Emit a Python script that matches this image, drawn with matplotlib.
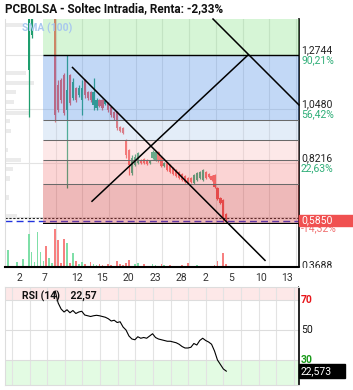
import matplotlib.pyplot as plt
from matplotlib.patches import Rectangle
import matplotlib.transforms as mtransforms
import numpy as np

plt.rcParams['font.family'] = ['Roboto', 'DejaVu Sans']

# ---- values (x = bar number, y = price) ----
candle_idx = [7, 8, 16, 17, 18, 19, 20, 21, 22, 23, 24, 25, 26, 27, 28, 29, 30,
              31, 32, 33, 34, 35, 36, 37, 38, 39, 40, 41, 42, 43, 44, 45, 46,
              47, 48, 49, 50, 51, 52, 53, 54, 55, 56, 57, 58, 59, 60, 61, 62,
              63, 64, 65, 66, 67, 68, 69, 70, 71, 72, 73, 74]
c_open = [1.2125, 1.360, 1.460, 1.1493, 1.1703, 1.1914, 1.0440, 1.1914, 1.0945,
          1.1367, 1.1071, 1.0861, 1.1703, 1.1198, 1.1198, 1.0650, 1.0524, 1.0861,
          1.0861, 1.0693, 1.0735, 1.0566, 1.0356, 1.0356, 0.9724, 0.9682, 0.9176,
          0.8755, 0.7786, 0.8123, 0.8208, 0.8334, 0.8376, 0.8334, 0.8208, 0.8418,
          0.8334, 0.8671, 0.8461, 0.8081, 0.8208, 0.8123, 0.7997, 0.7913, 0.7829,
          0.7744, 0.7660, 0.7576, 0.7576, 0.7365, 0.7492, 0.7576, 0.7492, 0.7829,
          0.7744, 0.7660, 0.7702, 0.7155, 0.6733, 0.6649, 0.6059]
c_high = [1.460, 1.460, 1.490, 1.1703, 1.1788, 1.2000, 1.2757, 1.1955, 1.1788,
          1.1409, 1.1493, 1.1703, 1.1746, 1.1240, 1.1240, 1.1788, 1.0945, 1.0903,
          1.0903, 1.0861, 1.0777, 1.0608, 1.0398, 1.0398, 0.9766, 0.9724, 0.9218,
          0.8797, 0.8545, 0.8587, 0.8671, 0.8376, 0.8418, 0.8376, 0.8334, 0.8755,
          0.8713, 0.8713, 0.8503, 0.8250, 0.8250, 0.8166, 0.8039, 0.7955, 0.7871,
          0.7786, 0.7702, 0.7618, 0.7618, 0.7744, 0.7829, 0.7871, 0.7955, 0.7871,
          0.7786, 0.7702, 0.7744, 0.7197, 0.6775, 0.6691, 0.6101]
c_low = [1.0145, 1.3473, 0.9935, 1.0356, 1.0735, 1.0229, 0.7155, 1.0650, 1.0861,
         1.0777, 1.0987, 1.0229, 1.0945, 1.0861, 1.0777, 1.0440, 1.0440, 1.0566,
         1.0440, 1.0650, 1.0356, 1.0145, 1.0019, 0.9597, 0.9513, 0.9429, 0.8418,
         0.7702, 0.7702, 0.8081, 0.8166, 0.8166, 0.8166, 0.8123, 0.8166, 0.8376,
         0.8292, 0.8250, 0.8039, 0.8039, 0.7871, 0.7786, 0.7702, 0.7618, 0.7534,
         0.7450, 0.7365, 0.7323, 0.7365, 0.7323, 0.7450, 0.7534, 0.7450, 0.7534,
         0.7576, 0.7450, 0.7155, 0.6649, 0.6481, 0.5722, 0.5764]
c_close = [1.450, 1.450, 1.0229, 1.0440, 1.0861, 1.0314, 1.1282, 1.0735, 1.1619,
           1.0861, 1.1367, 1.1367, 1.1071, 1.0945, 1.0861, 1.1198, 1.0861, 1.0608,
           1.0524, 1.0819, 1.0440, 1.0229, 1.0103, 0.9682, 0.9555, 0.9471, 0.8545,
           0.8123, 0.8418, 0.8461, 0.8629, 0.8208, 0.8208, 0.8166, 0.8292, 0.8671,
           0.8671, 0.8334, 0.8081, 0.8208, 0.7913, 0.7829, 0.7744, 0.7660, 0.7576,
           0.7492, 0.7407, 0.7365, 0.7407, 0.7702, 0.7786, 0.7829, 0.7913, 0.7576,
           0.7618, 0.7492, 0.7197, 0.6691, 0.6523, 0.5890, 0.5850]

vol_idx = [0, 3, 5, 7, 8, 9, 10, 11, 12, 13, 14, 15, 16, 17, 18, 19, 20, 21, 22,
           23, 24, 25, 26, 28, 29, 30, 31, 32, 34, 35, 37, 38, 39, 40, 41, 43, 44,
           46, 49, 50, 52, 53, 55, 59, 61, 64, 70, 71, 73, 74]
vol_val = [170, 50, 80, 330, 150, 50, 350, 150, 60, 210, 90, 40, 380, 270, 40,
           280, 240, 40, 140, 60, 30, 50, 30, 50, 30, 20, 30, 20, 30, 20, 60, 30,
           20, 40, 70, 30, 40, 30, 30, 20, 30, 20, 20, 20, 40, 20, 20, 60, 140, 30]
vol_up = [1, 1, 1, 1, 1, 1, 1, 1, 1, 0, 1, 1, 0, 0, 0, 0, 1, 0, 1, 0, 1, 1, 0, 0,
          1, 1, 0, 0, 0, 0, 0, 0, 0, 0, 0, 1, 1, 0, 1, 1, 0, 1, 0, 0, 0, 1, 0, 0,
          0, 0]

rsi_idx = list(range(16, 75))
rsi_val = [76, 68, 64, 62, 63.5, 61.5, 63, 61, 62, 62.5, 60, 59.5, 59, 59.5, 59.8,
           59.5, 59, 58.5, 57.5, 56, 56.5, 55, 55.5, 52, 50, 46, 44, 43.5, 45.5,
           44.5, 45, 44.5, 46, 47.5, 45, 44, 43.5, 43, 42.5, 42.5, 42, 41.5, 40.5,
           39, 38, 38, 38.5, 41, 40, 43, 44.5, 43, 42, 40.5, 36, 30, 27, 24, 22.57]

fib_low, fib_high = 0.5638, 1.2744
fib_start = 11.9
fib_ratios = [0, 0.236, 0.382, 0.5, 0.618, 1.0, 1.618]
fib_fill = [(0.82, 0.22, 0.22, 0.35), (0.96, 0.52, 0.52, 0.35),
            (0.98, 0.75, 0.75, 0.35), (0.69, 0.80, 0.92, 0.35),
            (0.32, 0.57, 0.91, 0.35), (0.54, 0.89, 0.54, 0.35)]

price_ticks = [1.2744, 1.0480, 0.8216, 0.5952, 0.3688]
price_labels = ['1,2744', '1,0480', '0,8216', '', '0,3688']
price_pct = ['90,21%', '56,42%', '22,63%', '', '-44,95%']
last_price = 0.5850
last_pct = '-14,32%'
stop_line = 0.589
blue_line = 0.5765

x_ticks = [3.73, 12.54, 23.39, 31.86, 40.68, 49.83, 58.64, 66.78, 75.59, 85.76, 94.58]
x_labels = ['2', '7', '12', '15', '20', '23', '28', '2', '5', '10', '13']

trend_x = [[21.86, 87.12], [28.47, 81.36], [69.49, 98.64]]
trend_y = [[1.2231, 0.4106], [0.6596, 1.2757], [1.4273, 1.0651]]

profile_price = [1.402, 1.200, 1.158, 1.120, 1.078, 1.031, 0.998, 0.956, 0.876,
                 0.833, 0.796, 0.754, 0.674, 0.5967]
profile_len = [6.0, 7.1, 9.8, 3.7, 3.1, 8.5, 1.7, 2.0, 1.0, 5.4, 2.7, 1.7, 1.4, 4.1]

W, H = 353, 390
xlim = (-1.02, 98.64)
up_col, dn_col = '#1e9e6e', '#f05454'
grid_col = '#e3e3e3'

fig = plt.figure(figsize=(W / 100, H / 100), dpi=100)
fig.patch.set_facecolor('white')


def box(x0, y0, x1, y1):
    return [x0 / W, 1 - y1 / H, (x1 - x0) / W, (y1 - y0) / H]


ax_rsi = fig.add_axes(box(5, 287, 299, 385))
ax_vol = fig.add_axes(box(5, 224, 299, 267))
ax = fig.add_axes(box(5, 19, 299, 224))

# ---- main price panel ----
ax.set_xlim(xlim)
ax.set_ylim(0.5638, 1.4273)
for g in np.arange(7.1, 99, 9.05):
    ax.axvline(g, color=grid_col, lw=0.8, zorder=0.5)
for t in price_ticks:
    ax.axhline(t, color=grid_col, lw=0.8, zorder=0.5)
ax.barh(profile_price, profile_len, left=xlim[0], height=0.02, color='#ebebeb', zorder=1)

for i, o, h, l, c in zip(candle_idx, c_open, c_high, c_low, c_close):
    col = up_col if c >= o else dn_col
    ax.vlines(i, l, h, color=col, lw=0.9, zorder=2)
    ax.bar(i, max(abs(c - o), 0.004), bottom=min(o, c), width=0.75, color=col, zorder=2)

ax.axhline(stop_line, color='#222222', ls=(0, (2, 1.5)), lw=0.8, zorder=2.5)
ax.axhline(blue_line, color='#2233dd', ls=(0, (5, 3)), lw=1.0, zorder=2.5)

fib_prices = [fib_low + r * (fib_high - fib_low) for r in fib_ratios]
for k in range(len(fib_fill)):
    ax.fill_between([fib_start, xlim[1]], fib_prices[k], fib_prices[k + 1],
                    color=fib_fill[k], lw=0, zorder=3)
for k, p in enumerate(fib_prices[:-1]):
    if k == 0:
        ax.hlines(p, fib_start, xlim[1], color='black', lw=1.6, zorder=3.5)
    elif k == 5:
        ax.hlines(p, fib_start, xlim[1], color='black', lw=1.0, zorder=3.5)
    else:
        ax.hlines(p, fib_start, xlim[1], color='#6a6a6a', lw=0.75, zorder=3.5)

for tx, ty in zip(trend_x, trend_y):
    ax.plot(tx, ty, color='black', lw=1.1, zorder=5, clip_on=False)

trans = mtransforms.blended_transform_factory(ax.transAxes, ax.transData)
for t, lab, pct in zip(price_ticks, price_labels, price_pct):
    if lab:
        ax.text(1.007, t, lab, transform=trans, va='bottom', ha='left',
                fontsize=7.5, color='#222222', clip_on=False)
        ax.text(1.007, t, pct, transform=trans, va='top', ha='left',
                fontsize=7.5, color='#2fae78', clip_on=False)

ax.set_xticks([])
ax.set_yticks([])
for s in ['top', 'bottom']:
    ax.spines[s].set_visible(False)
ax.spines['left'].set_color('#dddddd')
ax.spines['right'].set_color('black')
ax.spines['right'].set_linewidth(1.2)

# ---- volume panel ----
ax_vol.set_xlim(xlim)
ax_vol.set_ylim(0, 430)
for g in np.arange(7.1, 99, 9.05):
    ax_vol.axvline(g, color=grid_col, lw=0.8, zorder=0.5)
ax_vol.bar(vol_idx, vol_val, width=0.6,
           color=['#7fdfa8' if u else '#f78080' for u in vol_up], zorder=2)
ax_vol.set_yticks([])
ax_vol.set_xticks(x_ticks)
ax_vol.set_xticklabels(x_labels, fontsize=7.5, color='#333333')
ax_vol.tick_params(axis='x', length=0, pad=4)
ax_vol.spines['top'].set_visible(False)
ax_vol.spines['left'].set_color('#dddddd')
ax_vol.spines['bottom'].set_color('black')
ax_vol.spines['bottom'].set_linewidth(1.5)
ax_vol.spines['right'].set_color('black')
ax_vol.spines['right'].set_linewidth(1.2)

# ---- RSI panel ----
ax_rsi.set_xlim(xlim)
ax_rsi.set_ylim(13.33, 78.67)
ax_rsi.axhspan(70, 78.67, color='#fde8e8', lw=0, zorder=0.2)
ax_rsi.axhspan(13.33, 30, color='#e3fbe3', lw=0, zorder=0.2)
for g in np.arange(1.36, 99, 5.97):
    ax_rsi.axvline(g, color=grid_col, lw=0.8, zorder=0.5)
for lv in [30, 50, 70]:
    ax_rsi.axhline(lv, color='#dddddd', lw=0.8, zorder=0.5)
ax_rsi.plot(rsi_idx, rsi_val, color='black', lw=0.8, zorder=3)
ax_rsi.text(0.058, 0.9, 'RSI (14)    22,57', transform=ax_rsi.transAxes,
            fontsize=7.5, fontweight='bold', va='center', color='#111111')
rtrans = mtransforms.blended_transform_factory(ax_rsi.transAxes, ax_rsi.transData)
ax_rsi.text(1.007, 70, '70', transform=rtrans, fontsize=7.5, fontweight='bold',
            color='#e8161b', va='center')
ax_rsi.text(1.007, 50, '50', transform=rtrans, fontsize=7.5, color='#111111', va='center')
ax_rsi.text(1.007, 30, '30', transform=rtrans, fontsize=7.5, fontweight='bold',
            color='#1a9a1a', va='center')
ax_rsi.set_xticks([])
ax_rsi.set_yticks([])
for s in ['top', 'left', 'bottom']:
    ax_rsi.spines[s].set_color('#dddddd')
ax_rsi.spines['right'].set_color('black')
ax_rsi.spines['right'].set_linewidth(1.2)

# ---- labels outside the panels ----
fig.patches.append(Rectangle((299 / W, 1 - 286 / H), 54 / W, 18 / H,
                             transform=fig.transFigure, color='white', zorder=5))
fig.text(301 / W, 1 - 223 / H, last_pct, color='#f07070', fontsize=7.5,
         va='top', zorder=5.5)
fig.patches.append(Rectangle((299 / W, 1 - 226 / H), 54 / W, 11.5 / H,
                             transform=fig.transFigure, color='#f05050', zorder=6))
fig.text(301 / W, 1 - 220 / H, f'{last_price:.4f}'.replace('.', ','), color='white',
         fontsize=7.5, va='center', zorder=7)
fig.patches.append(Rectangle((299 / W, 1 - 378 / H), 46 / W, 14 / H,
                             transform=fig.transFigure, color='black', zorder=6))
fig.text(301 / W, 1 - 371 / H, '22,573', color='white', fontsize=7.5, va='center', zorder=7)

fig.text(5 / W, 1 - 9 / H, 'PCBOLSA - Soltec Intradia, Renta: -2,33%', fontsize=8.5,
         fontweight='bold', va='center', color='#111111')
fig.text(22 / W, 1 - 28 / H, 'SMA (100)', fontsize=7.5, fontweight='bold',
         color='#a8c8ee', va='center', zorder=7)

fig.savefig('out.png', dpi=100)
